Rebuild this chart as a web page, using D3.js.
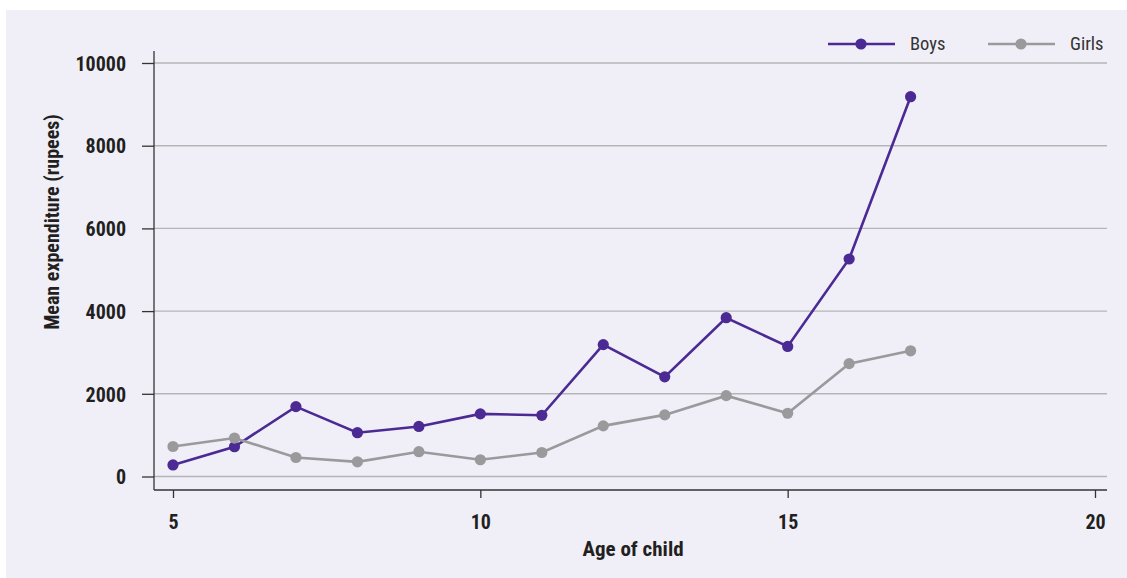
<!DOCTYPE html>
<html><head><meta charset="utf-8">
<script src="https://cdn.jsdelivr.net/npm/d3@7"></script>
<style>
html,body{margin:0;padding:0;background:#fff;}
svg{display:block;}
</style></head>
<body>
<svg id="chart" width="1127" height="578"></svg>
<script>
const ages = [5,6,7,8,9,10,11,12,13,14,15,16,17];
const boys = [280,720,1690,1060,1210,1515,1480,3190,2410,3840,3145,5260,9185];
const girls = [725,930,460,355,600,405,580,1225,1490,1955,1530,2730,3040];
const xTicks = [5,10,15,20];
const yTicks = [0,2000,4000,6000,8000,10000];
const seriesNames = ["Boys","Girls"];
const colors = ["#4b2a93","#9a9a9c"];

const svg = d3.select("#chart");
const fontNarrow = "'Liberation Sans Narrow','Arial Narrow','Roboto Condensed',Roboto,sans-serif";

svg.append("rect").attr("x",6).attr("y",10).attr("width",1121).attr("height",568).attr("fill","#f0eff8");

const x = d3.scaleLinear().domain([5,20]).range([173,1095]);
const y = d3.scaleLinear().domain([0,10000]).range([476.5,63]);
const plotLeft = 154, plotRight = 1107, axisY = 490;

// gridlines
svg.append("g").selectAll("line").data(yTicks).join("line")
  .attr("x1",plotLeft).attr("x2",plotRight)
  .attr("y1",d=>y(d)).attr("y2",d=>y(d))
  .attr("stroke","#b5b5b8").attr("stroke-width",1.4);

// y axis
const yAxis = svg.append("g").attr("transform",`translate(${plotLeft},0)`)
  .call(d3.axisLeft(y).tickValues(yTicks).tickSize(12).tickPadding(16).tickFormat(d3.format("d")));
yAxis.select(".domain").remove();
yAxis.append("line").attr("x1",0).attr("x2",0).attr("y1",51).attr("y2",axisY).attr("stroke","#333").attr("stroke-width",1.3);
yAxis.selectAll(".tick line").attr("stroke","#333").attr("stroke-width",1.3);
yAxis.selectAll(".tick text").attr("fill","#231f20").attr("font-family",fontNarrow).attr("font-weight","bold").attr("font-size",20).attr("dy","0.36em");

// x axis
const xAxis = svg.append("g").attr("transform",`translate(0,${axisY})`)
  .call(d3.axisBottom(x).tickValues(xTicks).tickSize(8).tickPadding(17).tickFormat(d3.format("d")));
xAxis.select(".domain").remove();
xAxis.append("line").attr("x1",plotLeft).attr("x2",plotRight).attr("y1",0).attr("y2",0).attr("stroke","#333").attr("stroke-width",1.3);
xAxis.selectAll(".tick line").attr("stroke","#333").attr("stroke-width",1.3);
xAxis.selectAll(".tick text").attr("fill","#231f20").attr("font-family",fontNarrow).attr("font-weight","bold").attr("font-size",20);

// axis titles
svg.append("text").attr("transform","translate(59,222) rotate(-90)").attr("text-anchor","middle")
  .attr("font-family",fontNarrow).attr("font-weight","bold").attr("font-size",20).attr("fill","#231f20")
  .text("Mean expenditure (rupees)");
svg.append("text").attr("x",633).attr("y",556).attr("text-anchor","middle")
  .attr("font-family",fontNarrow).attr("font-weight","bold").attr("font-size",21).attr("fill","#231f20")
  .text("Age of child");

// lines
const line = d3.line().x(d=>x(d[0])).y(d=>y(d[1]));
[boys,girls].forEach((vals,i)=>{
  const pts = ages.map((a,j)=>[a,vals[j]]);
  const g = svg.append("g");
  g.append("path").attr("d",line(pts)).attr("fill","none").attr("stroke",colors[i]).attr("stroke-width",2.6);
  g.selectAll("circle").data(pts).join("circle").attr("cx",d=>x(d[0])).attr("cy",d=>y(d[1])).attr("r",5.6).attr("fill",colors[i]);
});

// legend
const legX = [828,988];
seriesNames.forEach((n,i)=>{
  const g = svg.append("g").attr("transform",`translate(${legX[i]},44)`);
  g.append("line").attr("x1",0).attr("x2",67).attr("stroke",colors[i]).attr("stroke-width",2.6);
  g.append("circle").attr("cx",33).attr("r",5.6).attr("fill",colors[i]);
  g.append("text").attr("x",82).attr("y",0).attr("dy","0.35em").attr("font-family",fontNarrow)
    .attr("font-size",18.5).attr("fill","#333").text(n);
});
</script>
</body></html>
